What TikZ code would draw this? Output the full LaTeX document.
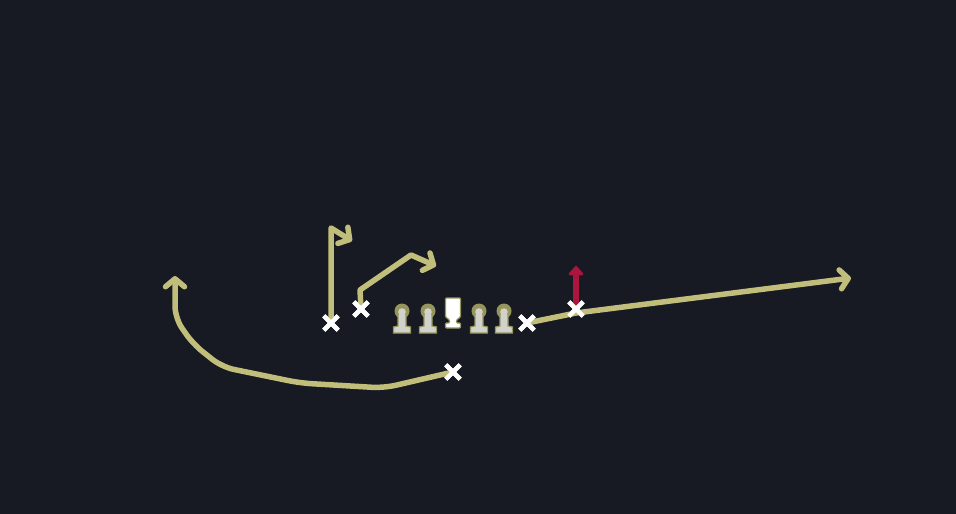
\documentclass[tikz,border=0pt]{standalone}
\usetikzlibrary{arrows.meta,shapes.misc}
\definecolor{bg}{RGB}{23,26,34}
\definecolor{olive}{RGB}{192,190,122}
\definecolor{glow}{RGB}{150,150,92}
\definecolor{bodygray}{RGB}{210,210,204}
\definecolor{blockred}{RGB}{170,22,62}
\tikzset{
  route/.style={draw=olive, line width=5.5pt, line join=round, line cap=round,
    -{Straight Barb[length=8pt,width=19pt,line cap=round,line join=round]}},
  xmark/.style={shape=cross out, draw=white, line width=4.3pt, minimum size=10pt, inner sep=0pt},
  blockarrow/.style={draw=blockred, line width=6pt, -{Triangle[length=10pt,width=17pt,round]}},
  lineman/.pic={
    \fill[glow] (0,-7) circle (7.5);
    \fill[bodygray, draw=glow, line width=1.2pt] (-4,-4) -- (-4,8) -- (-8.5,9) -- (-8.5,15) -- (8.5,15) -- (8.5,9) -- (4,8) -- (4,-4) -- cycle;
    \fill[bodygray] (0,-6) circle (3.8);
  },
  centerman/.pic={
    \fill[white, draw=glow, line width=1.2pt, rounded corners=1pt] (-7.5,-15) -- (7.5,-15) -- (7.5,4) -- (3.5,7) -- (3.5,10) -- (7.5,10) -- (7.5,15) -- (-7.5,15) -- (-7.5,10) -- (-3.5,10) -- (-3.5,7) -- (-7.5,4) -- cycle;
  }
}
\begin{document}
\begin{tikzpicture}[x=1pt,y=-1pt]
\fill[bg] (0,0) rectangle (956,514);
\useasboundingbox (0,0) rectangle (956,514);

% players (X)
\node[xmark] (wr1) at (331,323) {};
\node[xmark] (wr2) at (361,309) {};
\node[xmark] (te) at (527,323) {};
\node[xmark] (wr3) at (576,309) {};
\node[xmark] (rb) at (453,372) {};

% route waypoints
\coordinate (r1a) at (331,228);
\coordinate (r1t) at (352,241);
\coordinate (r2a) at (360,290);
\coordinate (r2b) at (411,255);
\coordinate (r2t) at (436,266);
\coordinate (r3a) at (576,313);
\coordinate (r3t) at (851,278);
\coordinate (r4a) at (384,388);
\coordinate (r4b) at (300,383);
\coordinate (r4c) at (222,367);
\coordinate (r4d) at (193,344);
\coordinate (r4e) at (175,318);
\coordinate (r4t) at (175,276);
\coordinate (redt) at (576,266);

% routes
\draw[route] (wr1.center) -- (r1a) -- (r1t);
\draw[route] (wr2.center) -- (r2a) -- (r2b) -- (r2t);
\draw[route] (te.center) -- (r3a) -- (r3t);
\draw[route, rounded corners=12pt] (rb.center) -- (r4a) -- (r4b) -- (r4c) -- (r4d) -- (r4e) -- (r4t);
\draw[blockarrow] (wr3.center) -- (redt);

% redraw X marks on top
\foreach \n in {wr1,wr2,te,wr3,rb}{
  \node[xmark] at (\n.center) {};
}

% offensive line
\pic at (402,318) {lineman};
\pic at (428,318) {lineman};
\pic at (453,313) {centerman};
\pic at (479,318) {lineman};
\pic at (504,318) {lineman};
\end{tikzpicture}
\end{document}
